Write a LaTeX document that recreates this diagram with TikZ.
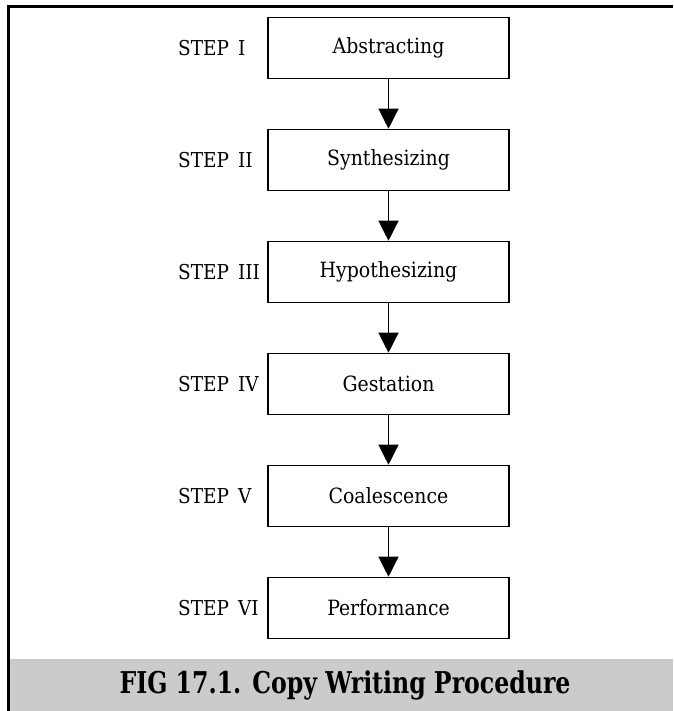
\documentclass[tikz,border=0pt]{standalone}
\usepackage{fontspec}
\setmainfont{DejaVu Serif Condensed}
\usetikzlibrary{arrows.meta}
\definecolor{bandgray}{HTML}{CBCBCB}
\begin{document}
\begin{tikzpicture}[x=1pt,y=-1pt,
  stepbox/.style={draw, line width=1.6pt, minimum width=241pt, minimum height=61pt,
    inner sep=0pt, font=\fontsize{21}{25}\selectfont},
  steplabel/.style={anchor=west, inner sep=0pt, font=\fontsize{20.5}{25}\selectfont},
  flow/.style={line width=1.3pt, -{Triangle[width=20pt,length=20pt]}},
  caption/.style={inner sep=0pt, font=\fontsize{30}{36}\selectfont\bfseries}]
\useasboundingbox (0,0) rectangle (673,711);
% caption band and frame
\fill[bandgray] (10,659) rectangle (673,711);
\draw[line width=2.5pt] (8.5,711) -- (8.5,6.5) -- (673,6.5);
% process steps
\foreach \i/\name/\lab in {1/Abstracting/I, 2/Synthesizing/II, 3/Hypothesizing/III,
                          4/Gestation/IV, 5/Coalescence/V, 6/Performance/VI} {
  \node[stepbox] (s\i) at (388.5, {48+112*(\i-1)}) {\name};
  \node[steplabel] (l\i) at (178, {48.5+112*(\i-1)}) {STEP\hspace{9pt}\lab};
}
\foreach \a/\b in {1/2, 2/3, 3/4, 4/5, 5/6}
  \draw[flow] (s\a.south) -- (s\b.north);
\node[caption] (cap) at (345, 685) {\scalebox{0.875}[1]{FIG 17.1. Copy Writing Procedure}};
\end{tikzpicture}
\end{document}
